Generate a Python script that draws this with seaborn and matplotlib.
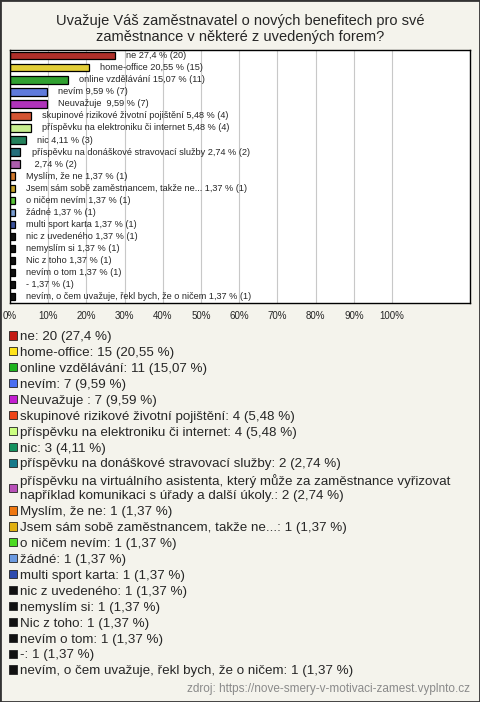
import matplotlib
matplotlib.use("Agg")
import matplotlib.pyplot as plt
import seaborn as sns
import pandas as pd
from matplotlib.patches import Patch, Rectangle

# answers (legend names), short names shown next to bars, counts and percent
names = ["ne", "home-office", "online vzdělávání", "nevím", "Neuvažuje ",
         "skupinové rizikové životní pojištění",
         "příspěvku na elektroniku či internet", "nic",
         "příspěvku na donáškové stravovací služby",
         "příspěvku na virtuálního asistenta, který může za zaměstnance vyřizovat\n"
         "například komunikaci s úřady a další úkoly.",
         "Myslím, že ne", "Jsem sám sobě zaměstnancem, takže ne...",
         "o ničem nevím", "žádné", "multi sport karta", "nic z uvedeného",
         "nemyslím si", "Nic z toho", "nevím o tom", "-",
         "nevím, o čem uvažuje, řekl bych, že o ničem"]
bar_names = names[:9] + [""] + names[10:]
counts = [20, 15, 11, 7, 7, 4, 4, 3, 2, 2, 1, 1, 1, 1, 1, 1, 1, 1, 1, 1, 1]
pct = [27.4, 20.55, 15.07, 9.59, 9.59, 5.48, 5.48, 4.11, 2.74, 2.74,
       1.37, 1.37, 1.37, 1.37, 1.37, 1.37, 1.37, 1.37, 1.37, 1.37, 1.37]
pct_txt = ["27,4", "20,55", "15,07", "9,59", "9,59", "5,48", "5,48", "4,11",
           "2,74", "2,74", "1,37", "1,37", "1,37", "1,37", "1,37", "1,37",
           "1,37", "1,37", "1,37", "1,37", "1,37"]
colors = ["#c41a14", "#ffe31a", "#1db31d", "#4a6ef0", "#c21dd0", "#ee4418",
          "#ccff80", "#13915e", "#167a8a", "#b850b8", "#ee7710", "#e0b010",
          "#4ddb22", "#6b9ae0", "#2c4aae", "#111111", "#111111", "#111111",
          "#111111", "#111111", "#111111"]
ticks = list(range(0, 101, 10))

bg = "#f4f3ec"
title = ("Uvažuje Váš zaměstnavatel o nových benefitech pro své\n"
         "zaměstnance v některé z uvedených forem?")
source = "zdroj: https://nove-smery-v-motivaci-zamest.vyplnto.cz"

df = pd.DataFrame({"name": names, "pct": pct})

sns.set_style("white")
plt.rcParams['font.family'] = ['Liberation Sans', 'DejaVu Sans']

fig = plt.figure(figsize=(4.8, 7.02), dpi=100, facecolor=bg)
ax = fig.add_axes([10 / 480, 1 - 303 / 702, 460 / 480, 253 / 702])
ax.set_facecolor("white")

sns.barplot(data=df, x="pct", y="name", hue="name", order=names,
            hue_order=names, palette=colors, legend=False, width=0.62,
            edgecolor="black", linewidth=0.9, orient="h", ax=ax)

for i in range(len(names)):
    ax.annotate(f"{bar_names[i]} {pct_txt[i]} % ({counts[i]})",
                xy=(pct[i], i), xytext=(8, 0), textcoords="offset points",
                va="center", ha="left", fontsize=6.55)

ax.set_xlim(0, 120.4)
ax.set_ylim(len(names) - 0.48, -0.47)
ax.set_xticks(ticks)
ax.set_xticklabels([f"{t}%" for t in ticks], fontsize=7)
ax.set_yticks([])
ax.set_xlabel("")
ax.set_ylabel("")
ax.tick_params(axis="x", length=0, pad=6)
ax.grid(axis="x", color="#c8c8c8", linewidth=0.8)
ax.set_axisbelow(True)
for s in ax.spines.values():
    s.set_visible(True)
    s.set_color("black")
    s.set_linewidth(1)

handles = [Patch(facecolor=c, edgecolor="#222222", linewidth=0.6) for c in colors]
leg_labels = [f"{n}: {c} ({p} %)" for n, c, p in zip(names, counts, pct_txt)]
fig.legend(handles, leg_labels, loc="upper left",
           bbox_to_anchor=(9 / 480, 1 - 331 / 702), frameon=False,
           fontsize=9.6, handlelength=0.6, handleheight=0.6,
           handletextpad=0.22, labelspacing=0.295, borderpad=0,
           borderaxespad=0)

fig.text(0.5, 1 - 29 / 702, title, ha="center", va="center", fontsize=10.5,
         linespacing=1.1)
fig.text(470 / 480, 1 - 689 / 702, source, ha="right", va="center",
         color="#8a8a8a", fontsize=8.5)

fig.add_artist(Rectangle((0, 0), 1, 1, transform=fig.transFigure, fill=False,
                         edgecolor="#333333", linewidth=2))

fig.savefig("out.png", dpi=100, facecolor=bg)
